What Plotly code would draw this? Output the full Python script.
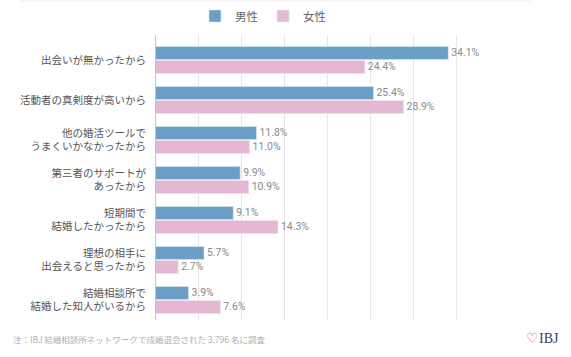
import plotly.graph_objects as go

categories = [
    "出会いが無かったから",
    "活動者の真剣度が高いから",
    "他の婚活ツールで<br>うまくいかなかったから",
    "第三者のサポートが<br>あったから",
    "短期間で<br>結婚したかったから",
    "理想の相手に<br>出会えると思ったから",
    "結婚相談所で<br>結婚した知人がいるから",
]
male = [34.1, 25.4, 11.8, 9.9, 9.1, 5.7, 3.9]
female = [24.4, 28.9, 11.0, 10.9, 14.3, 2.7, 7.6]
series_names = ["男性", "女性"]
note = "注：IBJ 結婚相談所ネットワークで成婚退会された 3,796 名に調査"

W, H = 571, 357
L, R, T, B = 155, 72, 35, 37
pw, ph = W - L - R, H - T - B

def px_x(x):
    return (x - L) / pw

def px_y(y):
    return (H - B - y) / ph

idx = list(range(len(categories)))

fig = go.Figure()
fig.add_trace(go.Bar(
    y=idx, x=male, name=series_names[0], orientation="h",
    marker=dict(color="#6a9ec4", line=dict(color="#dce8f2", width=0.6)),
    text=male, texttemplate="%{x:.1f}%", textposition="outside",
    textfont=dict(family="Roboto", size=10.5, color="#8a8a8a"),
    cliponaxis=False,
))
fig.add_trace(go.Bar(
    y=idx, x=female, name=series_names[1], orientation="h",
    marker=dict(color="#e4b8d3", line=dict(color="#f3e3ee", width=0.6)),
    text=female, texttemplate="%{x:.1f}%", textposition="outside",
    textfont=dict(family="Roboto", size=10.5, color="#8a8a8a"),
    cliponaxis=False,
))

fig.update_layout(
    width=W, height=H,
    margin=dict(l=L, r=R, t=T, b=B, autoexpand=False),
    paper_bgcolor="white", plot_bgcolor="white",
    barmode="group", bargap=0.3, bargroupgap=0.08,
    font=dict(family="Noto Sans CJK JP", color="#555"),
    showlegend=True,
    legend=dict(
        orientation="h", x=px_x(263), y=px_y(16), xanchor="center", yanchor="middle",
        font=dict(family="Noto Sans CJK JP", size=11.5, color="#666"),
        itemwidth=30, bgcolor="rgba(0,0,0,0)",
    ),
    xaxis=dict(
        range=[0, 40], dtick=5, showticklabels=False,
        showgrid=True, gridcolor="#e6e6e6", gridwidth=1,
        zeroline=False, showline=False, fixedrange=True,
    ),
    yaxis=dict(
        tickvals=idx, ticktext=categories,
        range=[6.5, -0.625], showgrid=False, zeroline=False,
        showline=False, fixedrange=True,
        tickfont=dict(family="Noto Sans CJK JP", size=10.5, color="#555"),
        ticks="", ticklabelstandoff=8,
    ),
)

# zero axis line
fig.add_shape(type="line", xref="x", yref="paper", x0=0, x1=0, y0=0, y1=1,
              line=dict(color="#c4c4c4", width=2))
# faint top border line
fig.add_shape(type="line", xref="paper", yref="paper",
              x0=px_x(20), x1=px_x(530), y0=px_y(1), y1=px_y(1),
              line=dict(color="#ececec", width=1))

fig.add_annotation(
    text=note, xref="paper", yref="paper", x=px_x(11), y=px_y(339),
    xanchor="left", yanchor="middle", showarrow=False,
    font=dict(family="Noto Sans CJK JP", size=8.5, color="#b0b0b0"),
)
fig.add_annotation(
    text="<span style='color:#d9606a'>♡</span>IBJ", xref="paper", yref="paper",
    x=px_x(542), y=px_y(338), xanchor="center", yanchor="middle", showarrow=False,
    font=dict(family="Liberation Serif", size=14, color="#2e3f6b"),
)

fig.write_html(
    "out.html",
    config={"displayModeBar": False},
    post_script="document.body.style.margin='0';document.body.style.overflow='hidden';",
)
